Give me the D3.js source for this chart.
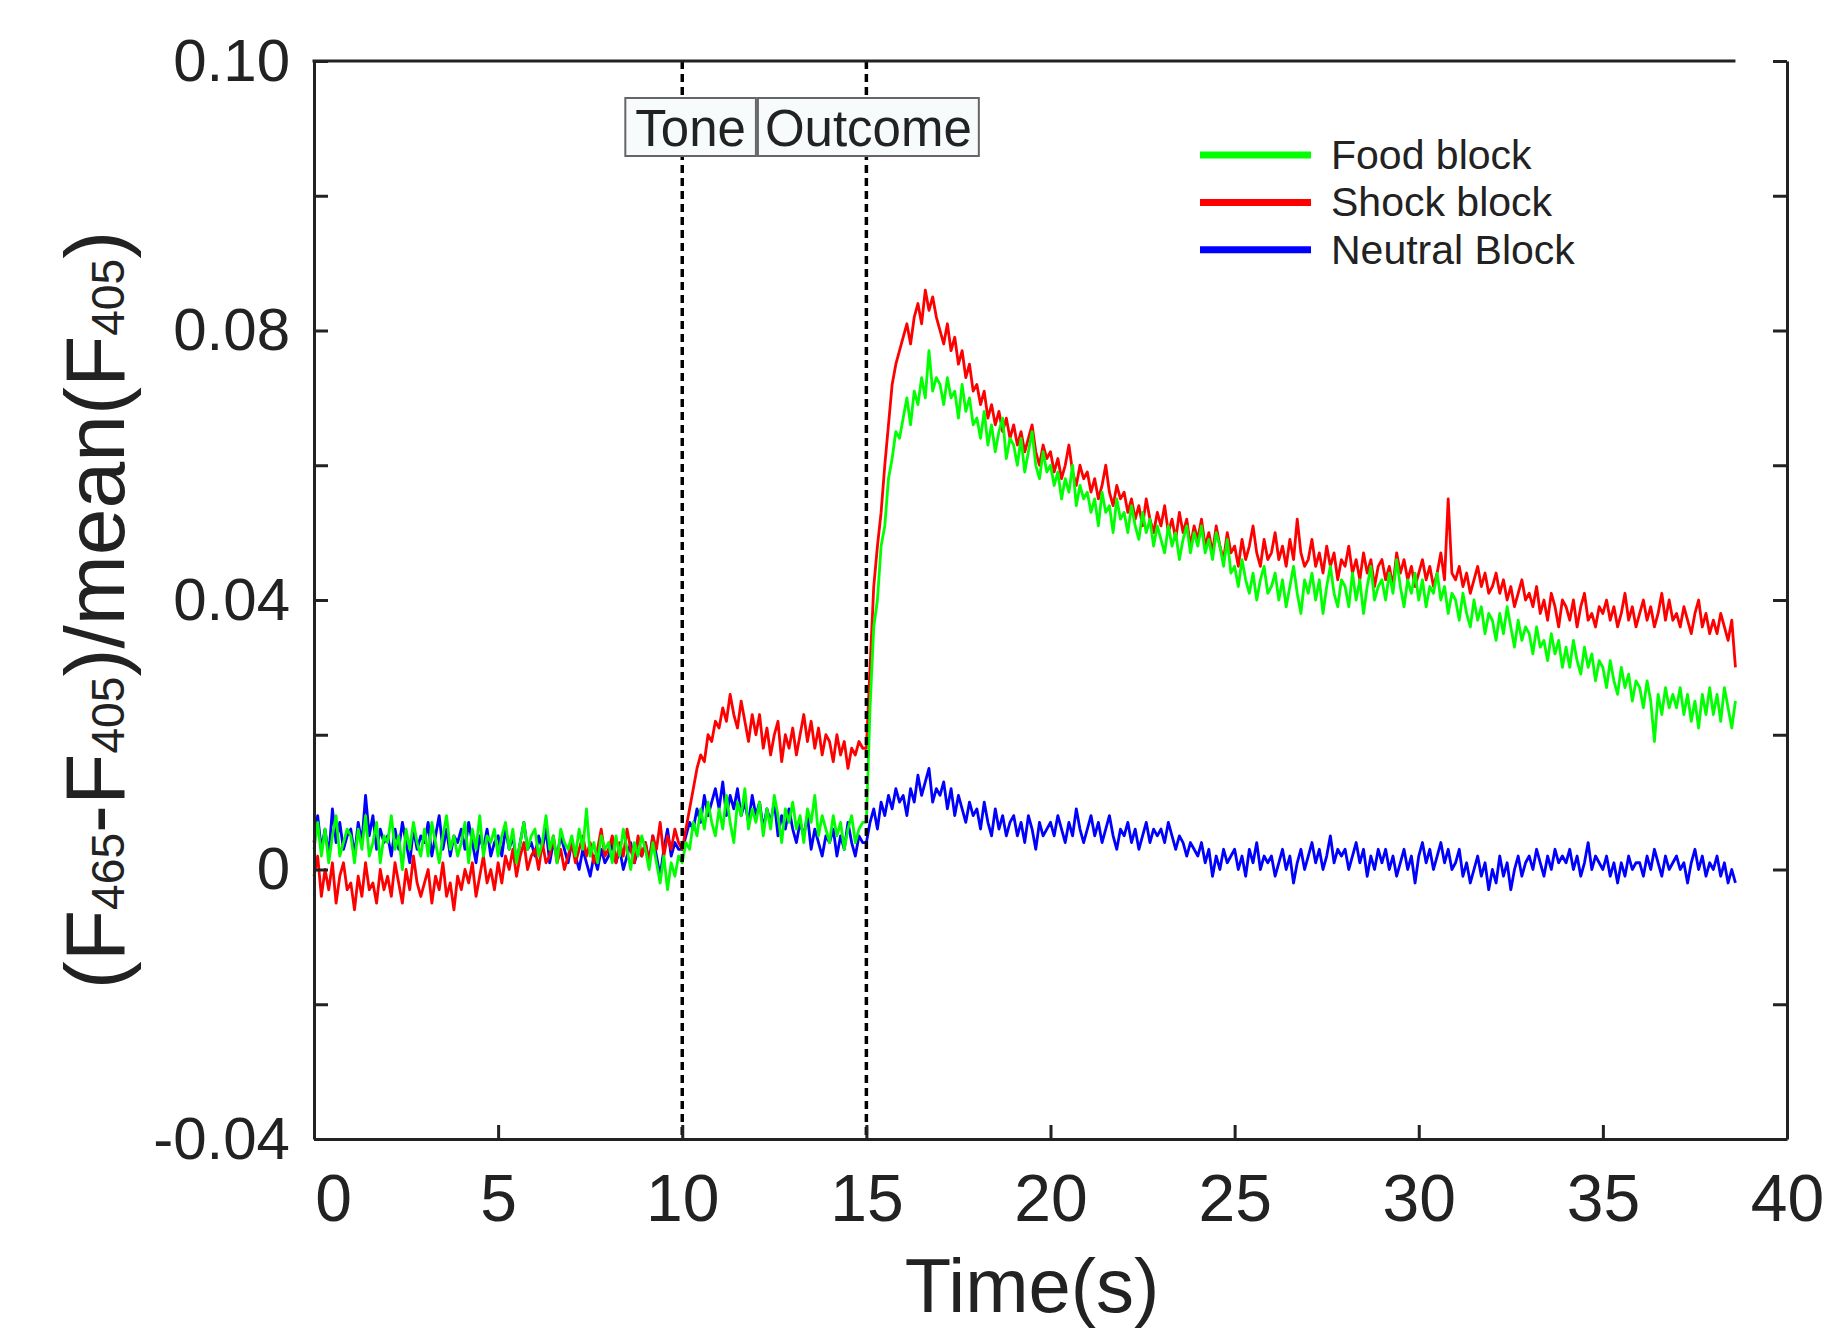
<!DOCTYPE html>
<html>
<head>
<meta charset="utf-8">
<script src="https://cdn.jsdelivr.net/npm/d3@7"></script>
<style>
  html, body { margin: 0; padding: 0; background: #fff; }
  svg { display: block; }
  text { font-family: "Liberation Sans", Arial, Helvetica, sans-serif; fill: #222; }
</style>
</head>
<body>
<svg id="chart" width="1835" height="1334"></svg>
<script>
"use strict";
/**
 * Photometry trace: (F465-F405)/mean(F405) over time for three trial blocks,
 * with Tone / Outcome event markers. One sample every SAMPLE_STEP seconds,
 * one row per second.
 */
const SAMPLE_STEP = 0.1;

const foodBlock = [
  .003,.007,.002,.006,.001,.005,.008,.002,.004,.006, // 0
  .005,.001,.006,.003,.008,.002,.004,.007,.001,.005, // 1
  .004,.008,.003,.005,.000,.006,.003,.007,.004,.002, // 2
  .006,.002,.007,.004,.001,.005,.008,.003,.005,.002, // 3
  .004,.007,.001,.006,.003,.008,.002,.005,.004,.006, // 4
  .002,.005,.007,.003,.006,.001,.004,.007,.003,.005, // 5
  .006,.002,.004,.008,.003,.005,.001,.006,.004,.003, // 6
  .005,.002,.006,.003,.009,.002,.004,.001,.005,.003, // 7
  .004,.001,.005,.002,.006,.003,.000,.004,.002,.005, // 8
  .003,.000,.004,.001,-.002,.002,-.003,.001,-.001,.002, // 9
  .001,.004,.003,.007,.005,.009,.006,.010,.007,.005, // 10
  .009,.006,.011,.007,.004,.010,.008,.012,.006,.009, // 11
  .007,.010,.005,.009,.006,.011,.008,.004,.009,.007, // 12
  .010,.006,.008,.004,.009,.007,.011,.005,.008,.006, // 13
  .004,.008,.005,.007,.003,.006,.008,.004,.006,.007, // 14
  .007,.024,.036,.040,.048,.051,.058,.061,.065,.064, // 15
  .067,.070,.066,.071,.069,.073,.070,.077,.071,.073, // 16
  .072,.069,.073,.070,.071,.067,.072,.068,.070,.066, // 17
  .067,.064,.068,.063,.066,.062,.065,.067,.061,.064, // 18
  .063,.060,.064,.059,.062,.065,.060,.058,.062,.059, // 19
  .060,.057,.059,.055,.058,.056,.060,.054,.057,.055, // 20
  .056,.053,.055,.051,.056,.053,.054,.050,.055,.052, // 21
  .053,.050,.054,.051,.049,.053,.050,.052,.048,.051, // 22
  .049,.047,.051,.048,.050,.046,.049,.051,.047,.050, // 23
  .048,.051,.047,.049,.046,.050,.048,.045,.049,.044, // 24
  .045,.042,.046,.043,.041,.044,.040,.043,.045,.041, // 25
  .042,.044,.040,.043,.039,.042,.045,.041,.038,.043, // 26
  .041,.044,.040,.043,.038,.042,.045,.041,.039,.043, // 27
  .042,.039,.044,.040,.043,.038,.042,.045,.040,.042, // 28
  .043,.040,.044,.041,.046,.042,.039,.043,.041,.044, // 29
  .040,.043,.039,.042,.041,.044,.040,.042,.038,.041, // 30
  .040,.037,.041,.038,.036,.040,.037,.039,.035,.038, // 31
  .037,.034,.038,.035,.039,.036,.033,.037,.034,.036, // 32
  .035,.032,.036,.033,.034,.031,.035,.032,.034,.030, // 33
  .033,.030,.034,.031,.029,.033,.030,.032,.028,.031, // 34
  .030,.027,.031,.028,.026,.030,.027,.029,.025,.028, // 35
  .027,.024,.028,.025,.019,.026,.023,.027,.024,.026, // 36
  .024,.027,.023,.026,.022,.025,.021,.026,.023,.027, // 37
  .023,.026,.022,.027,.024,.021,.025                 // 38
];

const shockBlock = [
  -.001,.002,-.004,.000,-.003,.001,-.005,-.001,.001,-.003, // 0
  -.002,-.006,-.001,-.004,.001,-.003,-.002,-.005,.000,-.003, // 1
  -.001,-.004,.001,-.002,-.005,.000,-.003,.002,-.002,-.004, // 2
  -.002,.000,-.005,-.001,-.003,.001,-.004,-.002,-.006,-.001, // 3
  -.003,.000,-.002,.001,-.004,-.001,.002,-.002,.000,-.003, // 4
  .001,-.002,.002,.000,.003,-.001,.002,.004,.000,.002, // 5
  .003,.000,.004,.001,.002,.005,.001,.003,.000,.002, // 6
  .004,.001,.003,.005,.002,.004,.001,.003,.006,.002, // 7
  .003,.005,.001,.004,.002,.006,.003,.001,.005,.002, // 8
  .004,.001,.005,.003,.007,.002,.005,.003,.006,.004, // 9
  .003,.006,.009,.012,.015,.017,.016,.020,.019,.022, // 10
  .021,.024,.022,.026,.023,.021,.025,.022,.019,.023, // 11
  .020,.023,.018,.021,.017,.020,.022,.016,.020,.018, // 12
  .021,.017,.020,.023,.019,.022,.018,.021,.017,.020, // 13
  .019,.016,.020,.017,.019,.015,.018,.017,.019,.018, // 14
  .018,.030,.042,.048,.053,.060,.066,.072,.075,.077, // 15
  .079,.081,.078,.082,.084,.081,.086,.083,.085,.082, // 16
  .080,.078,.081,.077,.079,.075,.077,.073,.075,.071, // 17
  .072,.069,.071,.067,.069,.066,.068,.065,.067,.064, // 18
  .066,.063,.065,.062,.064,.066,.062,.060,.063,.061, // 19
  .062,.059,.061,.058,.060,.063,.059,.057,.060,.058, // 20
  .059,.056,.058,.055,.057,.060,.056,.054,.057,.055, // 21
  .056,.053,.055,.052,.054,.051,.055,.052,.050,.053, // 22
  .051,.054,.050,.052,.049,.053,.050,.052,.048,.051, // 23
  .049,.052,.048,.050,.047,.051,.048,.046,.050,.047, // 24
  .048,.045,.049,.046,.048,.051,.047,.045,.049,.046, // 25
  .047,.050,.046,.048,.045,.049,.046,.052,.047,.045, // 26
  .046,.049,.045,.047,.044,.048,.045,.047,.043,.046, // 27
  .045,.048,.044,.046,.043,.047,.044,.046,.042,.045, // 28
  .046,.043,.045,.042,.047,.044,.046,.043,.045,.042, // 29
  .044,.046,.043,.045,.042,.044,.047,.043,.055,.044, // 30
  .043,.045,.042,.044,.041,.043,.045,.042,.044,.041, // 31
  .042,.044,.041,.043,.040,.042,.039,.041,.043,.040, // 32
  .041,.039,.042,.038,.040,.037,.041,.039,.036,.040, // 33
  .039,.037,.040,.036,.039,.041,.037,.038,.036,.039, // 34
  .038,.040,.037,.039,.036,.038,.041,.037,.039,.036, // 35
  .038,.040,.037,.039,.036,.038,.041,.037,.040,.037, // 36
  .038,.036,.039,.037,.035,.038,.040,.036,.038,.035, // 37
  .037,.035,.038,.036,.034,.037,.030                 // 38
];

const neutralBlock = [
  .004,.008,.003,.006,.002,.009,.004,.007,.003,.005, // 0
  .006,.002,.007,.004,.011,.005,.008,.003,.006,.004, // 1
  .005,.002,.006,.003,.007,.004,.001,.006,.003,.005, // 2
  .004,.007,.002,.005,.008,.003,.006,.002,.005,.004, // 3
  .006,.003,.007,.004,.001,.005,.003,.006,.002,.004, // 4
  .005,.002,.006,.003,.005,.001,.004,.007,.003,.004, // 5
  .002,.005,.003,.006,.001,.004,.002,.005,.003,.001, // 6
  .004,.002,.000,.003,.001,-.001,.002,.000,.003,.001, // 7
  .002,.004,.001,.003,.000,.002,.004,.001,.003,.002, // 8
  .004,.001,.005,.002,-.001,.003,.006,.002,.004,.003, // 9
  .003,.005,.007,.006,.009,.007,.011,.008,.010,.012, // 10
  .009,.013,.008,.011,.009,.012,.008,.010,.007,.011, // 11
  .008,.010,.006,.009,.007,.010,.005,.008,.006,.009, // 12
  .006,.004,.007,.005,.008,.003,.006,.004,.002,.005, // 13
  .004,.006,.002,.005,.003,.007,.004,.002,.005,.004, // 14
  .004,.007,.009,.006,.010,.008,.011,.009,.012,.010, // 15
  .011,.008,.012,.010,.014,.011,.013,.015,.010,.012, // 16
  .011,.013,.009,.012,.008,.011,.009,.007,.010,.008, // 17
  .009,.006,.010,.007,.005,.009,.006,.008,.005,.007, // 18
  .008,.005,.007,.004,.008,.006,.003,.007,.005,.006, // 19
  .007,.005,.008,.006,.004,.007,.005,.009,.006,.004, // 20
  .006,.008,.005,.007,.004,.006,.008,.005,.003,.006, // 21
  .005,.007,.004,.006,.003,.005,.007,.004,.006,.005, // 22
  .006,.004,.007,.005,.003,.005,.004,.002,.004,.003, // 23
  .002,.004,.001,.003,-.001,.002,.000,.003,.001,.002, // 24
  .003,.000,.002,-.001,.003,.001,.004,.000,.002,.001, // 25
  .002,-.001,.001,.003,.000,.002,-.002,.001,.003,.000, // 26
  .002,.004,.001,.003,.000,.002,.005,.001,.003,.002, // 27
  .003,.000,.002,.004,.001,.003,-.001,.002,.000,.003, // 28
  .001,.003,.000,.002,-.001,.001,.003,.000,.002,-.002, // 29
  .002,.004,.001,.003,.000,.002,.004,.001,.003,.000, // 30
  .001,.003,-.001,.001,-.002,.000,.002,-.001,.001,-.003, // 31
  .000,-.002,.002,-.001,.001,-.003,.000,.002,-.001,.001, // 32
  .002,.000,.003,.001,-.001,.002,.000,.003,.001,.002, // 33
  .001,.003,.000,.002,-.001,.001,.004,.000,.002,.001, // 34
  .000,.002,-.001,.001,-.002,.001,-.001,.002,.000,.001, // 35
  .001,-.001,.002,.000,.003,.001,-.001,.002,.000,.001, // 36
  .002,.000,.001,-.002,.001,.003,.000,.002,-.001,.001, // 37
  .000,.002,-.001,.001,-.002,.000,-.002              // 38
];

const seriesNames = ["Food block", "Shock block", "Neutral Block"];
const seriesColors = ["#00ff00", "#ff0000", "#0000ff"];
const seriesValues = [foodBlock, shockBlock, neutralBlock];

const eventTimes = [10, 15];
const eventLabels = ["Tone", "Outcome"];

const xTickValues = [0, 5, 10, 15, 20, 25, 30, 35, 40];
const yTickValues = [-0.04, -0.02, 0, 0.02, 0.04, 0.06, 0.08, 0.10, 0.12];
const yLabelValues = [-0.04, 0, 0.04, 0.08, 0.12];
const yLabelText = ["-0.04", "0", "0.04", "0.08", "0.10"];

// ---- layout ----
const W = 1835, H = 1334;
const margin = { top: 61, right: 48, bottom: 195, left: 314 };
const plotRight = W - margin.right;
const plotBottom = H - margin.bottom;
const AXIS_COLOR = "#222";
const TICK_LEN = 14;

const svg = d3.select("#chart");

const x = d3.scaleLinear().domain([0, 40]).range([margin.left, plotRight]);
const y = d3.scaleLinear().domain([-0.04, 0.12]).range([plotBottom, margin.top]);

const tOf = i => i * SAMPLE_STEP;
const tEnd = tOf(foodBlock.length - 1);

// Traces: neutral first, then shock, food on top
const line = d3.line()
  .x((d, i) => x(tOf(i)))
  .y(d => y(d));

const drawOrder = [2, 1, 0];
svg.append("g").attr("class", "traces")
  .selectAll("path")
  .data(drawOrder)
  .join("path")
  .attr("d", k => line(seriesValues[k]))
  .attr("fill", "none")
  .attr("stroke", k => seriesColors[k])
  .attr("stroke-width", 2.8)
  .attr("stroke-linejoin", "round");

// Event markers (dashed)
svg.append("g").attr("class", "events")
  .selectAll("line")
  .data(eventTimes)
  .join("line")
  .attr("x1", d => x(d)).attr("x2", d => x(d))
  .attr("y1", margin.top).attr("y2", plotBottom)
  .attr("stroke", "#000")
  .attr("stroke-width", 3.5)
  .attr("stroke-dasharray", "8,5");

// Event label boxes, sitting side by side just under the top spine
const boxTop = 98, boxH = 58, boxFont = 51;
const boxG = svg.append("g").attr("class", "event-boxes");
const labelNodes = eventLabels.map(txt => {
  const g = boxG.append("g");
  const rect = g.append("rect");
  const t = g.append("text")
    .attr("font-size", boxFont)
    .attr("text-anchor", "middle")
    .attr("y", boxTop + 48)
    .text(txt);
  return { g, rect, t, w: t.node().getComputedTextLength() };
});
// Outcome box centred on its marker, Tone box butted against its left edge
const outcome = labelNodes[1], tone = labelNodes[0];
const outW = outcome.w + 14, toneW = tone.w + 20;
const outX = x(eventTimes[1]) + 2 - outW / 2;
const toneX = outX - 2 - toneW;
[[tone, toneX, toneW], [outcome, outX, outW]].forEach(([n, bx, bw]) => {
  n.rect.attr("x", bx).attr("y", boxTop).attr("width", bw).attr("height", boxH)
    .attr("fill", "#f8fbfb").attr("stroke", "#666").attr("stroke-width", 2);
  n.t.attr("x", bx + bw / 2);
});

// Legend
const legend = svg.append("g").attr("class", "legend")
  .attr("transform", "translate(1200,155)");
const legendRows = legend.selectAll("g")
  .data(seriesNames)
  .join("g")
  .attr("transform", (d, i) => `translate(0,${i * 47.4})`);
legendRows.append("line")
  .attr("x1", 0).attr("x2", 111)
  .attr("stroke", (d, i) => seriesColors[i])
  .attr("stroke-width", 7);
legendRows.append("text")
  .attr("x", 131).attr("y", 14)
  .attr("font-size", 41)
  .text(d => d);

// ---- axes ----
function styleAxis(g) {
  g.select(".domain").attr("stroke", AXIS_COLOR).attr("stroke-width", 3);
  g.selectAll(".tick line").attr("stroke", AXIS_COLOR).attr("stroke-width", 3);
  g.selectAll(".tick text").attr("fill", "#222");
}

const labelFor = v => {
  const i = yLabelValues.findIndex(u => Math.abs(u - v) < 1e-9);
  return i >= 0 ? yLabelText[i] : "";
};

const yAxisG = svg.append("g")
  .attr("transform", `translate(${margin.left},0)`)
  .call(d3.axisLeft(y).tickValues(yTickValues).tickFormat(labelFor)
    .tickSize(-TICK_LEN).tickSizeOuter(0).tickPadding(24))
  .call(styleAxis);
yAxisG.selectAll(".tick text")
  .attr("font-size", 60)
  .attr("font-family", "Liberation Sans, Arial, sans-serif");

svg.append("g")
  .attr("transform", `translate(${plotRight},0)`)
  .call(d3.axisRight(y).tickValues(yTickValues).tickFormat("")
    .tickSize(-TICK_LEN).tickSizeOuter(0))
  .call(styleAxis);

const xAxisG = svg.append("g")
  .attr("transform", `translate(0,${plotBottom})`)
  .call(d3.axisBottom(x).tickValues(xTickValues).tickFormat(d3.format("d"))
    .tickSize(-TICK_LEN).tickSizeOuter(0))
  .call(styleAxis);
xAxisG.selectAll(".tick text")
  .attr("font-size", 66)
  .attr("font-family", "Liberation Sans, Arial, sans-serif")
  .attr("y", 82).attr("dy", 0)
  .attr("dx", d => d === 0 ? 19 : 0);

// Top spine only runs as far as the data
svg.append("line")
  .attr("x1", x(0) - 1.5).attr("x2", x(tEnd))
  .attr("y1", margin.top).attr("y2", margin.top)
  .attr("stroke", AXIS_COLOR).attr("stroke-width", 3);

// ---- titles ----
svg.append("text")
  .attr("x", 1032).attr("y", 1312)
  .attr("text-anchor", "middle")
  .attr("font-size", 76)
  .text("Time(s)");

const yTitle = svg.append("text")
  .attr("transform", "translate(124,610) rotate(-90)")
  .attr("text-anchor", "middle")
  .attr("font-size", 84);
[["(F", false], ["465", true], ["-F", false], ["405", true],
 [")/mean(F", false], ["405", true], [")", false]].forEach(([s, sub]) => {
  const ts = yTitle.append("tspan").text(s);
  if (sub) ts.attr("font-size", "0.55em");
});
</script>
</body>
</html>
